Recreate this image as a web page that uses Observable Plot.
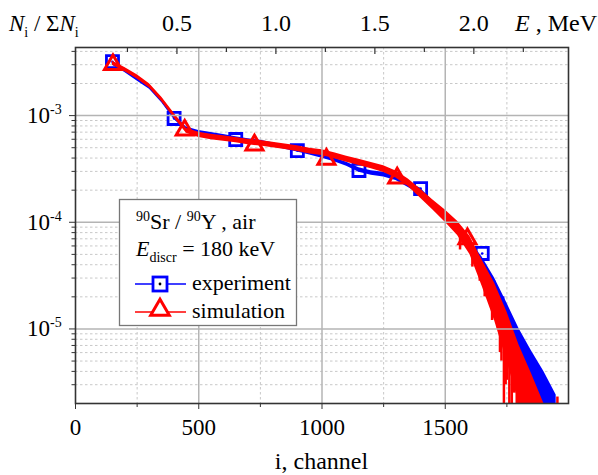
<!DOCTYPE html>
<html><head><meta charset="utf-8">
<script src="https://cdn.jsdelivr.net/npm/d3@7"></script>
<script src="https://cdn.jsdelivr.net/npm/@observablehq/plot@0.6"></script>
<style>body{margin:0;background:#fff} svg{display:block}</style>
</head><body><div id="chart"></div>
<script>
// ---- data ----
const channels = [150,200,250,300,350,400,450,500,550,600,650,700,750,800,850,900,950,1000,1050,1100,1150,1200,1250,1300,1350,1400,1450,1500,1550,1600,1650,1700,1750,1800,1850,1900,1950];
const expMid = [3.1e-3,2.65e-3,2.2e-3,1.85e-3,1.38e-3,9.6e-4,7.5e-4,7.0e-4,6.7e-4,6.4e-4,6.1e-4,5.85e-4,5.65e-4,5.35e-4,5.05e-4,4.75e-4,4.45e-4,4.15e-4,3.85e-4,3.5e-4,3.1e-4,2.9e-4,2.8e-4,2.6e-4,2.25e-4,1.95e-4,1.47e-4,1.16e-4,9.0e-5,5.9e-5,4.0e-5,2.4e-5,1.3e-5,7.4e-6,4.3e-6,2.8e-6,1.5e-6];
const expLo  = [2.97e-3,2.54e-3,2.11e-3,1.77e-3,1.32e-3,9.2e-4,7.2e-4,6.75e-4,6.45e-4,6.15e-4,5.87e-4,5.62e-4,5.43e-4,5.14e-4,4.85e-4,4.56e-4,4.27e-4,3.98e-4,3.69e-4,3.35e-4,2.95e-4,2.76e-4,2.66e-4,2.46e-4,2.12e-4,1.82e-4,1.36e-4,1.06e-4,8.1e-5,5.2e-5,3.4e-5,1.9e-5,9.5e-6,5.0e-6,2.8e-6,1.7e-6,1.0e-6];
const expHi  = [3.23e-3,2.76e-3,2.29e-3,1.93e-3,1.44e-3,1.0e-3,7.8e-4,7.25e-4,6.95e-4,6.65e-4,6.33e-4,6.08e-4,5.87e-4,5.56e-4,5.25e-4,4.94e-4,4.63e-4,4.32e-4,4.01e-4,3.65e-4,3.25e-4,3.04e-4,2.94e-4,2.74e-4,2.38e-4,2.08e-4,1.58e-4,1.26e-4,9.9e-5,6.7e-5,4.7e-5,3.0e-5,1.75e-5,1.0e-5,6.2e-6,4.0e-6,2.4e-6];
const simMid = [3.1e-3,2.7e-3,2.3e-3,1.9e-3,1.42e-3,1.0e-3,7.2e-4,6.6e-4,6.3e-4,6.1e-4,5.9e-4,5.65e-4,5.5e-4,5.3e-4,5.1e-4,4.9e-4,4.65e-4,4.5e-4,4.2e-4,3.9e-4,3.65e-4,3.4e-4,3.15e-4,2.8e-4,2.35e-4,1.85e-4,1.45e-4,1.15e-4,8.9e-5,6.3e-5,3.5e-5,2.0e-5,1.0e-5,4.4e-6,2.6e-6,1.4e-6,1.0e-6];
const simLo  = [2.97e-3,2.58e-3,2.2e-3,1.81e-3,1.35e-3,9.5e-4,6.85e-4,6.25e-4,5.95e-4,5.75e-4,5.57e-4,5.33e-4,5.18e-4,4.99e-4,4.8e-4,4.6e-4,4.36e-4,4.22e-4,3.94e-4,3.65e-4,3.41e-4,3.17e-4,2.93e-4,2.6e-4,2.17e-4,1.68e-4,1.3e-4,1.0e-4,7.5e-5,5.0e-5,2.5e-5,1.2e-5,5.0e-6,2.0e-6,1.3e-6,1.0e-6,1.0e-6];
const simHi  = [3.24e-3,2.83e-3,2.41e-3,1.99e-3,1.49e-3,1.05e-3,7.6e-4,7.0e-4,6.68e-4,6.48e-4,6.25e-4,6.0e-4,5.84e-4,5.63e-4,5.42e-4,5.21e-4,4.95e-4,4.79e-4,4.48e-4,4.17e-4,3.9e-4,3.64e-4,3.38e-4,3.02e-4,2.54e-4,2.04e-4,1.62e-4,1.3e-4,1.02e-4,7.4e-5,4.4e-5,2.7e-5,1.45e-5,7.0e-6,3.8e-6,2.0e-6,1.2e-6];

const expSpikeCh  = [1700,1735,1760,1785,1800,1815,1828,1845,1860,1872,1884,1896,1908,1920,1932];
const expSpikeTop = [2.8e-5,2.0e-5,1.3e-5,1.0e-5,8e-6,6.5e-6,5.6e-6,4.8e-6,4.2e-6,3.8e-6,3.5e-6,3.2e-6,3e-6,2.8e-6,2.6e-6];
const expSpikeBot = [1.6e-5,1.1e-5,7e-6,5.5e-6,4e-6,3.2e-6,2.6e-6,1.5e-6,1.5e-6,2.2e-6,1.5e-6,1.5e-6,1.5e-6,1.5e-6,1.5e-6];
const simSpikeCh  = [1560,1610,1640,1660,1690,1714,1722,1728,1738,1745,1750,1760,1770,1780,1790,1800,1810,1820,1832,1845,1856,1955];
const simSpikeTop = [9e-5,6e-5,4.5e-5,3.5e-5,2.2e-5,1.8e-5,1.6e-5,1.5e-5,1.3e-5,1.2e-5,1.1e-5,9e-6,8e-6,7e-6,6e-6,5e-6,4.5e-6,4e-6,3.5e-6,3e-6,2.7e-6,2.3e-6];
const simSpikeBot = [5.5e-5,3.8e-5,2.8e-5,2.0e-5,1.2e-5,1.0e-5,6e-6,5e-6,1.5e-6,3e-6,3.3e-6,1.5e-6,1.5e-6,2.5e-6,1.5e-6,1.5e-6,1.5e-6,1.5e-6,1.5e-6,1.5e-6,1.5e-6,1.5e-6];

const expMarkerCh  = [150,400,650,900,1150,1400,1650];
const expMarkerVal = [3.2e-3,9.4e-4,5.97e-4,4.7e-4,3.06e-4,2.07e-4,5.1e-5];
const simMarkerCh  = [152,443,726,1018,1305,1590];
const simMarkerVal = [3.0e-3,7.3e-4,5.3e-4,3.9e-4,2.6e-4,7.0e-5];

const xTickLabels = [0,500,1000,1500];
const xGrid = [500,1000,1500];
const xMinor = [250,750,1250,1750];
const yDecades = [1e-5,1e-4,1e-3];
const energyTicks = [0.25,0.5,0.75,1.0,1.25,1.5,1.75,2.0,2.25];
const energyLabels = [0.5,1.0,1.5,2.0];
const calOffset = 12, calGain = 803; // channel = calOffset + calGain * E(MeV)

const xDomain = [0,2000];
const yDomain = [2e-6,4.35e-3];
const yMinor = [];
[1e-6,1e-5,1e-4,1e-3].forEach(d => { for (let m=2;m<=9;m++){ const v=+(m*d).toPrecision(3); if (v>yDomain[0]*1.01 && v<yDomain[1]) yMinor.push(v);} });

const expData = channels.map((ch,i)=>({ch, mid:expMid[i], lo:expLo[i], hi:expHi[i]}));
const simData = channels.map((ch,i)=>({ch, mid:simMid[i], lo:simLo[i], hi:simHi[i]}));
const expSpikes = expSpikeCh.map((ch,i)=>({ch, t:expSpikeTop[i], b:expSpikeBot[i]}));
const simSpikes = simSpikeCh.map((ch,i)=>({ch, t:simSpikeTop[i], b:simSpikeBot[i]}));
const expMarkers = expMarkerCh.map((ch,i)=>({ch, v:expMarkerVal[i]}));
const simMarkers = simMarkerCh.map((ch,i)=>({ch, v:simMarkerVal[i]}));

const BLUE = "#0000ff", RED = "#ff0000";
const FONT = "'Liberation Serif', 'Times New Roman', serif";

const plot = Plot.plot({
  width: 598, height: 475,
  marginLeft: 75, marginRight: 30, marginTop: 47, marginBottom: 72,
  x: {domain: xDomain},
  y: {type: "log", domain: yDomain},
  style: {fontFamily: FONT, fontSize: "23px", color: "#000", background: "#fff", overflow: "visible"},
  marks: [
    Plot.ruleY(yMinor, {stroke: "#c8c8c8", strokeDasharray: "2.5,2.5", strokeWidth: 1}),
    Plot.ruleX(xMinor, {stroke: "#c8c8c8", strokeDasharray: "2.5,2.5", strokeWidth: 1}),
    Plot.areaY(expData, {x: "ch", y1: "lo", y2: "hi", fill: BLUE, clip: true}),
    Plot.lineY(expData, {x: "ch", y: "mid", stroke: BLUE, strokeWidth: 1.5, clip: true}),
    Plot.ruleX(expSpikes, {x: "ch", y1: "t", y2: "b", stroke: BLUE, strokeWidth: 2.5, clip: true}),
    Plot.dot(expMarkers, {x: "ch", y: "v", symbol: "square", r: 6.8, stroke: BLUE, strokeWidth: 2.8, fill: "none"}),
    Plot.dot(expMarkers, {x: "ch", y: "v", r: 1.3, fill: BLUE}),
    Plot.areaY(simData, {x: "ch", y1: "lo", y2: "hi", fill: RED, clip: true}),
    Plot.lineY(simData, {x: "ch", y: "mid", stroke: RED, strokeWidth: 1.5, clip: true}),
    Plot.ruleX(simSpikes, {x: "ch", y1: "t", y2: "b", stroke: RED, strokeWidth: 2.5, clip: true}),
    Plot.dot(simMarkers, {x: "ch", y: "v", symbol: "triangle", r: 6.3, stroke: RED, strokeWidth: 3, fill: "none"}),
    Plot.ruleY(yDecades, {stroke: "#b4b4b4", strokeWidth: 1.5}),
    Plot.ruleX(xGrid, {stroke: "#b4b4b4", strokeWidth: 1.5}),
    Plot.axisX({ticks: xTickLabels, tickSize: 6, tickPadding: 9, fontSize: 23, stroke: "#333", tickFormat: d => String(d), label: null}),
    Plot.axisX({ticks: xMinor, tickSize: 4, stroke: "#333", tickFormat: () => "", label: null}),
    Plot.axisY({ticks: yDecades, tickSize: 6, stroke: "#333", tickFormat: () => "", label: null}),
    Plot.axisY({ticks: yMinor, tickSize: 3.5, stroke: "#333", tickFormat: () => "", label: null}),
    Plot.frame({stroke: "#333", strokeWidth: 1.6})
  ]
});
document.getElementById("chart").appendChild(plot);

const svg = d3.select(plot);
const xs = plot.scale("x"), ys = plot.scale("y");
const frameL = xs.apply(xDomain[0]), frameR = xs.apply(xDomain[1]);
const frameT = ys.apply(yDomain[1]), frameB = ys.apply(yDomain[0]);
const g = svg.append("g").attr("font-family", FONT).attr("fill", "#000").attr("text-anchor", "start");

// top energy axis (inward ticks)
energyTicks.forEach(e => {
  const px = xs.apply(calOffset + calGain * e);
  const major = energyLabels.includes(e);
  g.append("line").attr("x1", px).attr("x2", px).attr("y1", frameT).attr("y2", frameT + (major ? 7 : 5))
    .attr("stroke", "#333").attr("stroke-width", 1.2);
});
energyLabels.forEach(e => {
  g.append("text").attr("x", xs.apply(calOffset + calGain * e)).attr("y", frameT - 16)
    .attr("text-anchor", "middle").attr("font-size", 24).text(e.toFixed(1));
});

// left decade labels 10^n
yDecades.forEach(v => {
  const py = ys.apply(v);
  const ex = Math.round(Math.log10(v));
  g.append("text").attr("x", frameL - 25).attr("y", py + 8).attr("text-anchor", "end").attr("font-size", 23).text("10");
  g.append("text").attr("x", frameL - 25).attr("y", py - 1).attr("text-anchor", "start").attr("font-size", 14).text(String(ex));
});

// axis titles
const yt = g.append("text").attr("x", 9).attr("y", frameT - 16).attr("font-size", 23);
yt.append("tspan").attr("font-style", "italic").text("N");
yt.append("tspan").attr("font-size", 14).attr("dy", 6).text("i");
yt.append("tspan").attr("dy", -6).text(" / Σ");
yt.append("tspan").attr("font-style", "italic").text("N");
yt.append("tspan").attr("font-size", 14).attr("dy", 6).text("i");

const et = g.append("text").attr("x", 515).attr("y", frameT - 16).attr("font-size", 24);
et.append("tspan").attr("font-style", "italic").text("E");
et.append("tspan").text(" , MeV");

g.append("text").attr("x", (frameL + frameR) / 2).attr("y", 469).attr("text-anchor", "middle").attr("font-size", 24).text("i, channel");

// legend box
const lg = g.append("g");
lg.append("rect").attr("x", 119.5).attr("y", 199.5).attr("width", 177).attr("height", 126)
  .attr("fill", "#fff").attr("stroke", "#777").attr("stroke-width", 1.3);
const l1 = lg.append("text").attr("x", 136).attr("y", 229).attr("font-size", 22);
l1.append("tspan").attr("font-size", 14).attr("dy", -8).text("90");
l1.append("tspan").attr("dy", 8).text("Sr / ");
l1.append("tspan").attr("font-size", 14).attr("dy", -8).text("90");
l1.append("tspan").attr("dy", 8).text("Y , air");
const l2 = lg.append("text").attr("x", 136).attr("y", 256).attr("font-size", 22);
l2.append("tspan").attr("font-style", "italic").text("E");
l2.append("tspan").attr("font-size", 14).attr("dy", 6).text("discr");
l2.append("tspan").attr("dy", -6).text(" = 180 keV");
// experiment
lg.append("line").attr("x1", 135).attr("x2", 186).attr("y1", 284).attr("y2", 284).attr("stroke", BLUE).attr("stroke-width", 1.5);
lg.append("rect").attr("x", 153).attr("y", 277).attr("width", 14).attr("height", 14).attr("fill", "#fff").attr("stroke", BLUE).attr("stroke-width", 2.8);
lg.append("circle").attr("cx", 160).attr("cy", 284).attr("r", 1.4).attr("fill", "#000");
lg.append("text").attr("x", 192).attr("y", 290).attr("font-size", 22).text("experiment");
// simulation
lg.append("line").attr("x1", 135).attr("x2", 186).attr("y1", 312).attr("y2", 312).attr("stroke", RED).attr("stroke-width", 1.5);
lg.append("path").attr("d", d3.symbol(d3.symbolTriangle, 150)()).attr("transform", "translate(160,310)")
  .attr("fill", "#fff").attr("stroke", RED).attr("stroke-width", 3);
lg.append("text").attr("x", 192).attr("y", 318).attr("font-size", 22).text("simulation");
</script>
</body></html>
